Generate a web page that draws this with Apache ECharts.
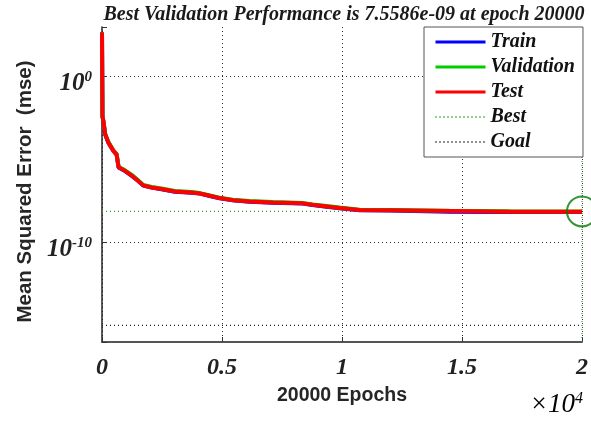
<!DOCTYPE html>
<html>
<head>
<meta charset="utf-8">
<script src="https://cdn.jsdelivr.net/npm/echarts@6/dist/echarts.min.js"></script>
<style>html,body{margin:0;padding:0;background:#fff}#c{width:591px;height:421px}</style>
</head>
<body>
<div id="c"></div>
<script>
// ---- data ----
const epochs = [0, 20, 60, 130, 260, 470, 610, 690, 960, 1240, 1510, 1720, 2070, 2480, 3040, 3730, 4080, 4490, 4900, 5450, 6150, 7110, 8360, 8770, 9360, 9900, 10730, 12000, 14470, 17000, 20000];
const trainPerf = [4.7e2, 3.9e-3, 1.95e-3, 3.4e-4, 1.1e-4, 3.4e-5, 1.95e-5, 3.4e-6, 2.05e-6, 1.05e-6, 5.1e-7, 2.7e-7, 2.05e-7, 1.65e-7, 1.17e-7, 1.02e-7, 8.9e-8, 6.4e-8, 4.7e-8, 3.5e-8, 2.9e-8, 2.55e-8, 2.25e-8, 1.85e-8, 1.45e-8, 1.15e-8, 8.9e-9, 8.5e-9, 7.3e-9, 7.0e-9, 6.9e-9];
const valPerf = [4.7e2, 4.1e-3, 2.1e-3, 3.6e-4, 1.2e-4, 3.7e-5, 2.1e-5, 3.7e-6, 2.25e-6, 1.2e-6, 5.6e-7, 3.0e-7, 2.25e-7, 1.8e-7, 1.28e-7, 1.12e-7, 9.6e-8, 7.0e-8, 5.1e-8, 3.85e-8, 3.2e-8, 2.8e-8, 2.45e-8, 2.0e-8, 1.6e-8, 1.28e-8, 9.6e-9, 9.2e-9, 8.3e-9, 7.8e-9, 7.5586e-9];
const testPerf = [4.7e2, 4.0e-3, 2.0e-3, 3.5e-4, 1.1e-4, 3.5e-5, 2.0e-5, 3.5e-6, 2.1e-6, 1.1e-6, 5.2e-7, 2.8e-7, 2.1e-7, 1.7e-7, 1.2e-7, 1.05e-7, 9.1e-8, 6.6e-8, 4.8e-8, 3.6e-8, 3.0e-8, 2.6e-8, 2.3e-8, 1.9e-8, 1.5e-8, 1.2e-8, 9.1e-9, 8.7e-9, 7.9e-9, 7.2e-9, 7.1e-9];
const bestEpoch = 20000;
const bestPerf = 7.5586e-9;
const goalPerf = 1e-15;
const xMin = 0, xMax = 20000;
const yMin = 1e-16, yMax = 1e3;
const xTickLabels = ['0', '0.5', '1', '1.5', '2'];
const yLabelExponents = [0, -10];
const titleText = 'Best Validation Performance is 7.5586e-09 at epoch 20000';
const seriesNames = ['Train', 'Validation', 'Test', 'Best', 'Goal'];

const zip = (xs, ys) => xs.map((x, i) => [x, ys[i]]);
const serif = 'Liberation Serif';
const sans = 'Liberation Sans';

const chart = echarts.init(document.getElementById('c'), null, {renderer: 'canvas'});
const lineW = 4;
const bestGreen = '#2a9a2a';
const dotted = [1, 3];
const solidNames = ['Train', 'Validation', 'Test'];
chart.setOption({
  animation: false,
  backgroundColor: '#fff',
  title: {
    text: titleText, left: 339, top: 0, textAlign: 'center',
    textStyle: {fontFamily: serif, fontStyle: 'italic', fontWeight: 'bold', fontSize: 20, color: '#1a1a1a'}
  },
  grid: {left: 102, right: 8, top: 27, bottom: 79, containLabel: false},
  legend: {
    data: seriesNames.map(n => solidNames.includes(n) ? {name: n, lineStyle: {width: 3}} : {name: n}),
    orient: 'vertical', left: 424, top: 27,
    itemWidth: 50, itemHeight: 14, itemGap: 5,
    padding: [5, 8, 5, 10],
    backgroundColor: '#fff', borderColor: '#555', borderWidth: 1,
    itemStyle: {opacity: 0},
    textStyle: {fontFamily: serif, fontStyle: 'italic', fontWeight: 'bold', fontSize: 20, color: '#111', lineHeight: 18.5}
  },
  xAxis: {
    type: 'value', min: xMin, max: xMax, interval: 5000,
    name: '20000 Epochs', nameLocation: 'middle', nameGap: 44,
    nameTextStyle: {fontFamily: sans, fontWeight: 'bold', fontSize: 19.5, color: '#262626'},
    axisLine: {lineStyle: {color: '#555', width: 2}},
    axisTick: {inside: true, length: 5, lineStyle: {color: '#333'}},
    axisLabel: {
      margin: 14, fontFamily: serif, fontStyle: 'italic', fontWeight: 'bold', fontSize: 24, color: '#222',
      formatter: (v) => xTickLabels[Math.round(v / 5000)]
    },
    splitLine: {show: true, lineStyle: {color: '#333', type: dotted, width: 1}}
  },
  yAxis: {
    type: 'log', logBase: 10, min: yMin, max: yMax,
    name: 'Mean Squared Error  (mse)', nameLocation: 'middle', nameGap: 66,
    nameTextStyle: {fontFamily: sans, fontWeight: 'bold', fontSize: 20.5, color: '#262626', padding: [0, 14, 0, 0]},
    axisLine: {lineStyle: {color: '#222', width: 1.5}},
    axisTick: {inside: true, length: 5, lineStyle: {color: '#333'}},
    axisLabel: {
      margin: 10, padding: [14, 0, 0, 0],
      formatter: (v) => {
        const e = Math.round(Math.log10(v));
        return yLabelExponents.includes(e) ? '{b|10}{s|' + e + '}' : '';
      },
      rich: {
        b: {fontFamily: serif, fontStyle: 'italic', fontWeight: 'bold', fontSize: 25, color: '#222', lineHeight: 28},
        s: {fontFamily: serif, fontStyle: 'italic', fontWeight: 'bold', fontSize: 15, color: '#222', lineHeight: 15, verticalAlign: 'top'}
      }
    },
    splitLine: {show: true, showMinLine: false, showMaxLine: false, lineStyle: {color: '#333', type: dotted, width: 1}}
  },
  graphic: [{
    type: 'text', right: 8, bottom: 3,
    style: {
      text: '{b|×10}{s|4}',
      rich: {
        b: {fontFamily: serif, fontStyle: 'italic', fontSize: 27, color: '#222', lineHeight: 28},
        s: {fontFamily: serif, fontStyle: 'italic', fontSize: 16, color: '#222', lineHeight: 16, verticalAlign: 'top'}
      }
    }
  }],
  series: [
    {name: 'Goal', type: 'line', data: zip([xMin, xMax], [goalPerf, goalPerf]), symbol: 'none', color: '#222',
      lineStyle: {width: 1.2, type: dotted, color: '#222'}, z: 2},
    {name: 'Best', type: 'line', data: zip([xMin, xMax], [bestPerf, bestPerf]), symbol: 'none', color: bestGreen,
      lineStyle: {width: 1.2, type: dotted, color: bestGreen}, z: 2},
    {name: 'Best', type: 'line', data: zip([bestEpoch, bestEpoch], [yMin, yMax]), symbol: 'none', color: bestGreen,
      lineStyle: {width: 1.2, type: dotted, color: bestGreen}, z: 2},
    {name: 'Train', type: 'line', data: zip(epochs, trainPerf), symbol: 'none', color: '#0000ff', lineStyle: {width: lineW, color: '#0000ff'}, z: 3},
    {name: 'Validation', type: 'line', data: zip(epochs, valPerf), symbol: 'none', color: '#00cc00', lineStyle: {width: lineW, color: '#00cc00'}, z: 4},
    {name: 'Test', type: 'line', data: zip(epochs, testPerf), symbol: 'none', color: '#ff0000', lineStyle: {width: lineW, color: '#ff0000'}, z: 5},
    {name: 'Best', type: 'scatter', data: zip([bestEpoch], [bestPerf]), symbol: 'circle', symbolSize: 30, z: 6,
      itemStyle: {color: 'rgba(0,0,0,0)', borderColor: '#007a00', borderWidth: 2}}
  ]
});
</script>
</body>
</html>
